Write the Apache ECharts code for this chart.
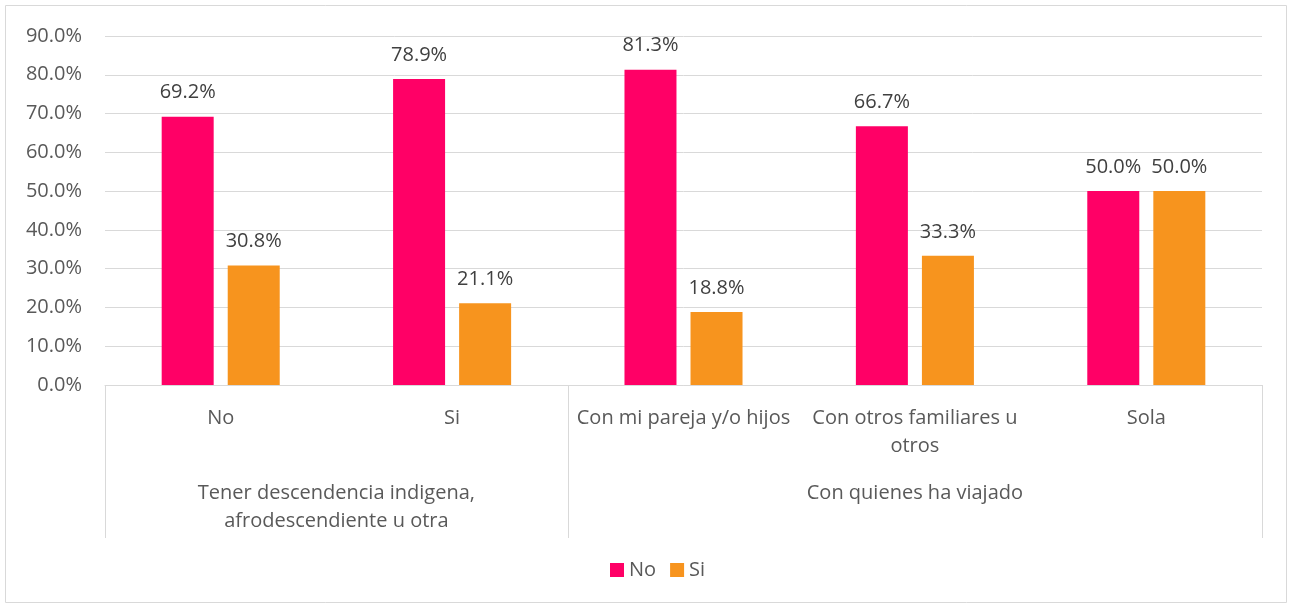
<!DOCTYPE html>
<html>
<head>
<meta charset="utf-8"/>
<title>chart</title>
<script src="https://cdn.jsdelivr.net/npm/echarts@6/dist/echarts.min.js"></script>
<style>
  html, body { margin: 0; padding: 0; background: #fff; }
  #main { width: 1292px; height: 608px; }
</style>
</head>
<body>
<div id="main"></div>
<script>
// categories (first level) and groups (second level)
const categories = ['No', 'Si', 'Con mi pareja y/o hijos', 'Con otros familiares u\notros', 'Sola']
const groupNames = ['Tener descendencia indigena,\nafrodescendiente u otra', 'Con quienes ha viajado']
const groupCenters = [1, 3.5]      // in category units
const groupBounds = [0, 2, 5]
const seriesNo = [69.2, 78.9, 81.3, 66.7, 50.0]
const seriesSi = [30.8, 21.1, 18.8, 33.3, 50.0]
const yTicks = [0, 10, 20, 30, 40, 50, 60, 70, 80, 90]

const FONT = 'Open Sans'
const FS = 20
const TXT = '#595959'
const LINE = '#D9D9D9'

const myChart = echarts.init(document.getElementById('main'))

const option = {
    animation: false,
    textStyle: { fontFamily: FONT },
    graphic: [{
        type: 'rect',
        shape: { x: 5.5, y: 5.5, width: 1281, height: 597 },
        style: { fill: 'none', stroke: LINE, lineWidth: 1 }
    }],
    grid: { left: 105, right: 30, top: 36, bottom: 223, containLabel: false },
    legend: {
        bottom: 23,
        left: 605,
        itemWidth: 14,
        itemHeight: 14,
        itemGap: 14,
        icon: 'rect',
        textStyle: { color: TXT, fontSize: FS, fontFamily: FONT },
        data: ['No', 'Si']
    },
    xAxis: [{
        type: 'category',
        data: categories,
        axisLine: { lineStyle: { color: LINE } },
        axisTick: { show: false },
        axisLabel: {
            color: TXT, fontSize: FS, lineHeight: 28, margin: 19,
            interval: 0
        }
    }, {
        type: 'value',
        min: 0,
        max: 5,
        position: 'bottom',
        splitLine: { show: false },
        axisLine: { show: false },
        axisTick: {
            show: true,
            customValues: groupBounds,
            length: 153,
            lineStyle: { color: LINE }
        },
        axisLabel: {
            show: true,
            customValues: groupCenters,
            color: TXT, fontSize: FS, lineHeight: 28, margin: 94,
            formatter: function (v) {
                const i = groupCenters.indexOf(v)
                return i >= 0 ? groupNames[i] : ''
            }
        }
    }],
    yAxis: {
        type: 'value',
        min: 0,
        max: 90,
        interval: 10,
        axisLine: { show: false },
        axisTick: { show: false },
        splitLine: { lineStyle: { color: LINE } },
        axisLabel: {
            color: TXT, fontSize: FS, margin: 23,
            customValues: yTicks,
            formatter: v => v.toFixed(1) + '%'
        }
    },
    series: [{
        name: 'No',
        type: 'bar',
        data: seriesNo,
        barWidth: 52,
        barGap: '27%',
        itemStyle: { color: '#FF0066' },
        label: {
            show: true, position: 'top', distance: 14,
            color: '#404040', fontSize: FS, fontFamily: FONT,
            formatter: p => p.value.toFixed(1) + '%'
        }
    }, {
        name: 'Si',
        type: 'bar',
        data: seriesSi,
        barWidth: 52,
        itemStyle: { color: '#F7941E' },
        label: {
            show: true, position: 'top', distance: 14,
            color: '#404040', fontSize: FS, fontFamily: FONT,
            formatter: p => p.value.toFixed(1) + '%'
        }
    }]
}

myChart.setOption(option)
</script>
</body>
</html>
